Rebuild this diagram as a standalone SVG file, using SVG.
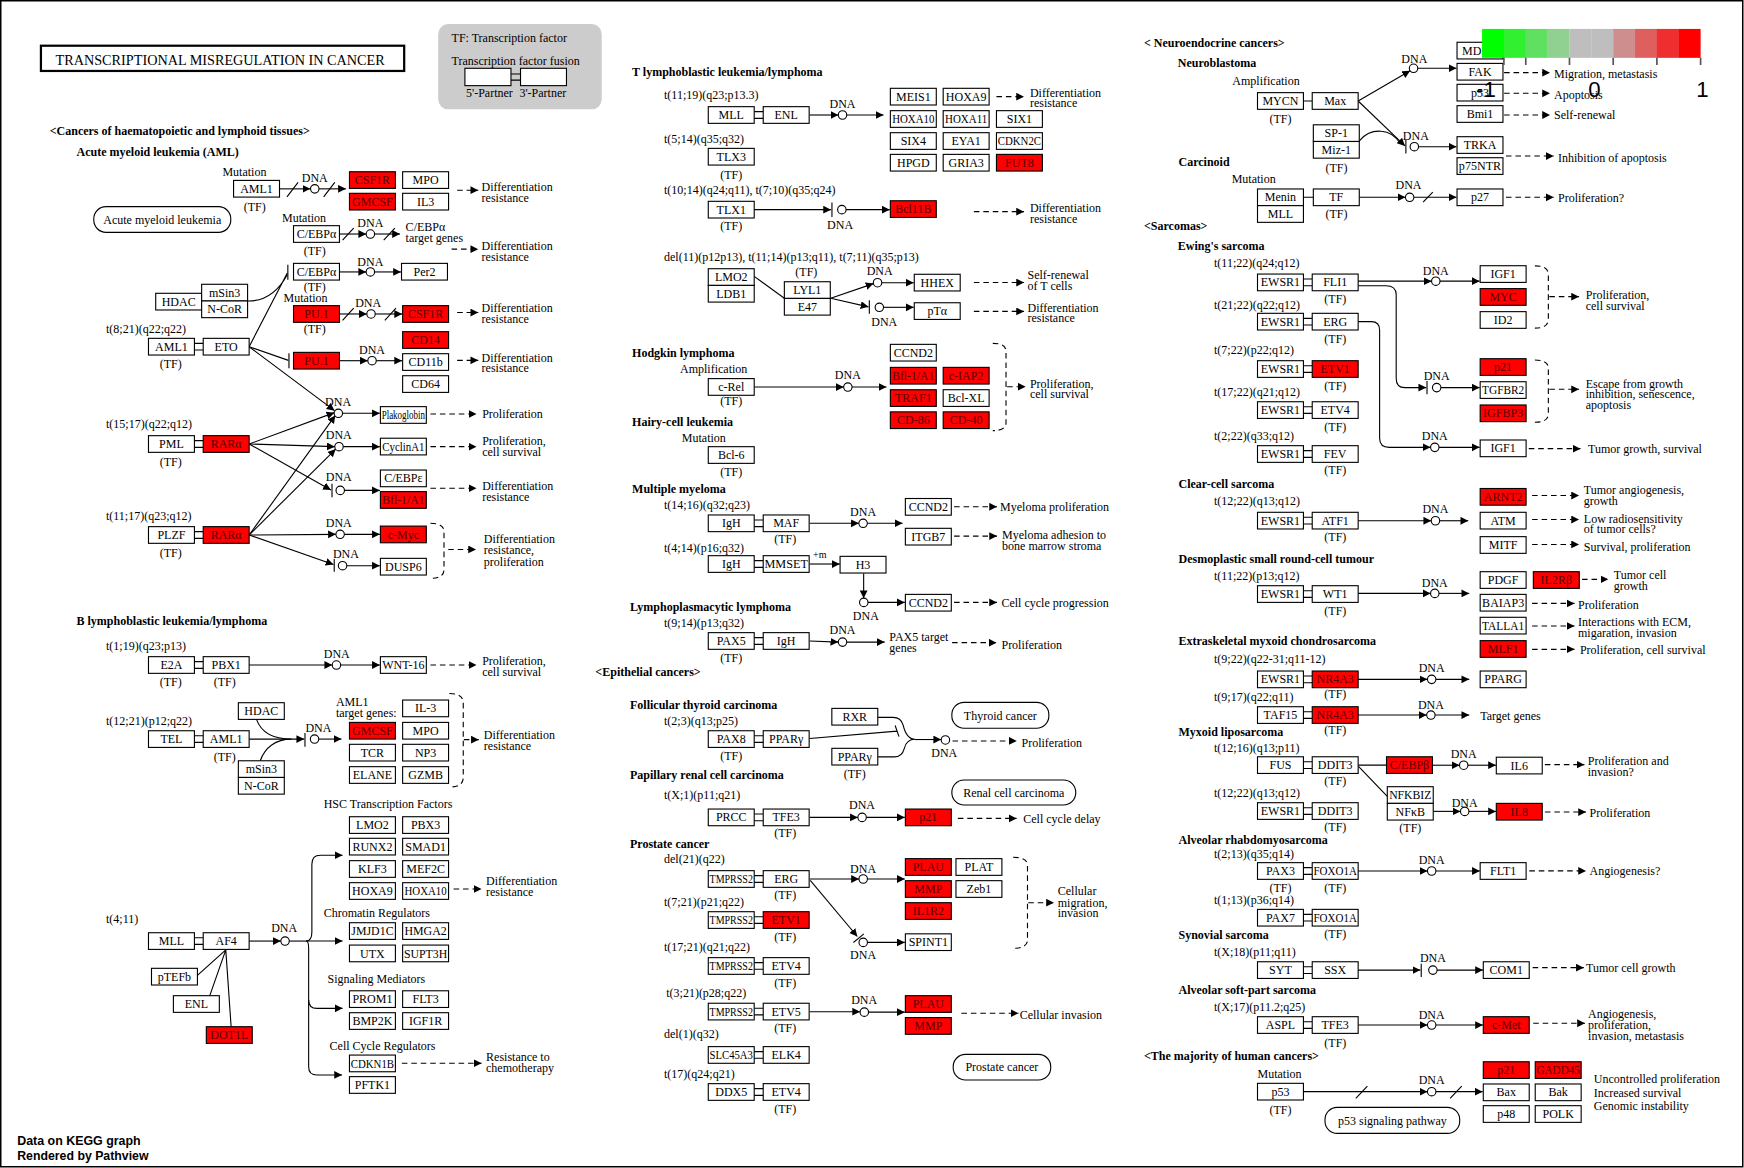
<svg xmlns="http://www.w3.org/2000/svg" width="1744" height="1168" viewBox="0 0 1744 1168">
<style>
text{font-family:"Liberation Serif","Times New Roman",serif;font-size:10.8px;fill:#000}
.b{font-weight:bold}
.c{text-anchor:middle}
.t{fill:#5a0000}
.n{fill:#fff;stroke:#000;stroke-width:1}
.r{fill:#f00;stroke:#000;stroke-width:1}
.o{fill:#fff;stroke:#000;stroke-width:1}
.k{fill:none;stroke:#000;stroke-width:1}
.d{fill:none;stroke:#000;stroke-width:1;stroke-dasharray:5 3.5}
.ka{marker-end:url(#a)}
.sans{font-family:"Liberation Sans",Arial,sans-serif}
</style>
<defs>
<marker id="a" markerUnits="userSpaceOnUse" markerWidth="8" markerHeight="8" refX="7" refY="3.5" orient="auto"><path d="M0,0 L7,3.5 L0,7 z" fill="#000"/></marker>
</defs>
<rect x="0" y="0" width="1744" height="1168" fill="#fff"/>
<rect x="0.75" y="0.75" width="1742" height="1166" fill="none" stroke="#000" stroke-width="1.5"/>
<g transform="scale(1.11224)">

<g id="header">
<rect x="36.8" y="41.1" width="326.6" height="22.7" fill="#fff" stroke="#000" stroke-width="2"/>
<text x="49.9" y="58.6" style="font-size:14px" textLength="296" lengthAdjust="spacingAndGlyphs">TRANSCRIPTIONAL MISREGULATION  IN  CANCER</text>
<rect x="394" y="21.6" width="147" height="76.7" rx="9" fill="#cccccc"/>
<text x="406" y="37.5">TF: Transcription factor</text>
<text x="406" y="58.4">Transcription factor fusion</text>
<rect class="n" x="418" y="61.4" width="41.4" height="15.6"/>
<rect class="n" x="468" y="61.4" width="41.3" height="15.6"/>
<path class="k" d="M459.4,66.5 H468 M459.4,72 H468"/>
<text x="419" y="87.5">5'-Partner</text>
<text x="467" y="87.5">3'-Partner</text>
</g>

<g id="labels">
<text class="b" x="44.7" y="121.4">&lt;Cancers of haematopoietic and lymphoid tissues&gt;</text>
<text class="b" x="68.8" y="140.3">Acute myeloid leukemia (AML)</text>
<text x="200" y="158">Mutation</text>
<text class="c" x="283" y="164">DNA</text>
<text class="c" x="229" y="189.4">(TF)</text>
<text x="433" y="172">Differentiation</text><text x="433" y="181.5">resistance</text>
<text x="253.6" y="199.3">Mutation</text>
<text class="c" x="333" y="203.8">DNA</text>
<text x="364.7" y="207.7">C/EBPα</text><text x="364.7" y="217.9">target genes</text>
<text class="c" x="283" y="229.3">(TF)</text>
<text x="433" y="224.8">Differentiation</text><text x="433" y="234.4">resistance</text>
<text class="c" x="333" y="238.9">DNA</text>
<text class="c" x="283" y="261.5">(TF)</text>
<text x="255" y="271.5">Mutation</text>
<text class="c" x="331" y="275.7">DNA</text>
<text class="c" x="283" y="299.7">(TF)</text>
<text x="433" y="280.4">Differentiation</text><text x="433" y="290.1">resistance</text>
<text x="95.3" y="299.1">t(8;21)(q22;q22)</text>
<text class="c" x="153.5" y="330.6">(TF)</text>
<text class="c" x="334.5" y="318.6">DNA</text>
<text x="433" y="325.2">Differentiation</text><text x="433" y="334.7">resistance</text>
<text class="c" x="304" y="364.7">DNA</text>
<text x="433.5" y="376">Proliferation</text>
<text x="95.3" y="385">t(15;17)(q22;q12)</text>
<text class="c" x="153.5" y="419">(TF)</text>
<text class="c" x="304.6" y="395">DNA</text>
<text x="433.5" y="400">Proliferation,</text><text x="433.5" y="409.7">cell survival</text>
<text class="c" x="304.6" y="432.2">DNA</text>
<text x="433.5" y="440.6">Differentiation</text><text x="433.5" y="450.2">resistance</text>
<text x="95.3" y="467.5">t(11;17)(q23;q12)</text>
<text class="c" x="153.5" y="500.5">(TF)</text>
<text class="c" x="304.6" y="473.5">DNA</text>
<text class="c" x="311" y="501.4">DNA</text>
<text x="435" y="488.5">Differentiation</text><text x="435" y="498.4">resistance,</text><text x="435" y="508.6">proliferation</text>
<text class="b" x="68.8" y="562">B lymphoblastic leukemia/lymphoma</text>
<text x="95.3" y="584.4">t(1;19)(q23;p13)</text>
<text class="c" x="153.5" y="616.5">(TF)</text><text class="c" x="202" y="616.5">(TF)</text>
<text class="c" x="302.8" y="591.9">DNA</text>
<text x="433.5" y="598">Proliferation,</text><text x="433.5" y="607.5">cell survival</text>
<text x="95.3" y="651.9">t(12;21)(p12;q22)</text>
<text class="c" x="202" y="684">(TF)</text>
<text class="c" x="286.3" y="657.9">DNA</text>
<text x="302" y="634.5">AML1</text><text x="302" y="644.5">target genes:</text>
<text x="435" y="664.8">Differentiation</text><text x="435" y="674.3">resistance</text>
<text x="291" y="726.8">HSC Transcription Factors</text>
<text x="437" y="795.7">Differentiation</text><text x="437" y="805.6">resistance</text>
<text x="291" y="824.2">Chromatin Regulators</text>
<text x="294.5" y="883.5">Signaling Mediators</text>
<text x="296.3" y="944">Cell Cycle Regulators</text>
<text x="437" y="954">Resistance to</text><text x="437" y="963.8">chemotherapy</text>
<text x="95.3" y="830.2">t(4;11)</text>
<text class="c" x="255.5" y="837.7">DNA</text>

<text class="b" x="568.3" y="68.3">T lymphoblastic leukemia/lymphoma</text>
<text x="597" y="89">t(11;19)(q23;p13.3)</text>
<text class="c" x="757.5" y="97.3">DNA</text>
<text x="926" y="87">Differentiation</text><text x="926" y="96.5">resistance</text>
<text x="597" y="128.9">t(5;14)(q35;q32)</text>
<text class="c" x="657.5" y="161">(TF)</text>
<text x="597" y="174.7">t(10;14)(q24;q11), t(7;10)(q35;q24)</text>
<text class="c" x="657.5" y="206.8">(TF)</text>
<text class="c" x="755.3" y="205.9">DNA</text>
<text x="926" y="190.9">Differentiation</text><text x="926" y="200.2">resistance</text>
<text x="597" y="234.7">del(11)(p12p13), t(11;14)(p13;q11), t(7;11)(q35;p13)</text>
<text class="c" x="725" y="248.2">(TF)</text>
<text class="c" x="790.9" y="247.3">DNA</text>
<text class="c" x="795" y="293">DNA</text>
<text x="923.8" y="251">Self-renewal</text><text x="923.8" y="260.7">of T cells</text>
<text x="923.8" y="280.2">Differentiation</text><text x="923.8" y="289.8">resistance</text>
<text class="b" x="568.3" y="321.3">Hodgkin lymphoma</text>
<text x="611.4" y="335.7">Amplification</text>
<text class="c" x="657.5" y="364">(TF)</text>
<text class="c" x="762.3" y="341">DNA</text>
<text x="926" y="349.2">Proliferation,</text><text x="926" y="358.2">cell survival</text>
<text class="b" x="568.3" y="383">Hairy-cell leukemia</text>
<text x="613" y="397.1">Mutation</text>
<text class="c" x="657.5" y="427.7">(TF)</text>
<text class="b" x="568.3" y="443.5">Multiple myeloma</text>
<text x="597" y="457.7">t(14;16)(q32;q23)</text>
<text class="c" x="706" y="488.5">(TF)</text>
<text class="c" x="776" y="463.6">DNA</text>
<text x="899.2" y="459.2">Myeloma proliferation</text>
<text x="901" y="484.6">Myeloma adhesion to</text><text x="901" y="494.5">bone marrow stroma</text>
<text x="597" y="496.6">t(4;14)(p16;q32)</text>
<text x="731" y="502" style="font-size:9px">+m</text>
<text class="c" x="778.5" y="557.5">DNA</text>
<text x="900.4" y="546">Cell cycle progression</text>
<text class="b" x="566.4" y="549">Lymphoplasmacytic lymphoma</text>
<text x="597" y="563.5">t(9;14)(p13;q32)</text>
<text class="c" x="657.5" y="595.5">(TF)</text>
<text class="c" x="757.5" y="570.3">DNA</text>
<text x="799.6" y="576">PAX5 target</text><text x="799.6" y="586">genes</text>
<text x="900.4" y="583.5">Proliferation</text>
<text class="b" x="535.3" y="607.8">&lt;Epithelial cancers&gt;</text>
<text class="b" x="566.4" y="637.5">Follicular thyroid carcinoma</text>
<text x="597" y="651.9">t(2;3)(q13;p25)</text>
<text class="c" x="657.5" y="683.3">(TF)</text>
<text class="c" x="768.5" y="699.2">(TF)</text>
<text class="c" x="849" y="680.3">DNA</text>
<text x="918.4" y="671.3">Proliferation</text>
<text class="b" x="566.4" y="700.7">Papillary renal cell carcinoma</text>
<text x="597" y="718.7">t(X;1)(p11;q21)</text>
<text class="c" x="706" y="752.8">(TF)</text>
<text class="c" x="775" y="727.7">DNA</text>
<text x="920" y="740.3">Cell cycle delay</text>
<text class="b" x="566.4" y="762.7">Prostate cancer</text>
<text x="597" y="776.2">del(21)(q22)</text>
<text class="c" x="706" y="808.6">(TF)</text>
<text class="c" x="776" y="784.6">DNA</text>
<text class="c" x="776" y="862.2">DNA</text>
<text x="951" y="804.7">Cellular</text><text x="951" y="815.2">migration,</text><text x="951" y="824.8">invasion</text>
<text x="597" y="814.3">t(7;21)(p21;q22)</text>
<text class="c" x="706" y="845.8">(TF)</text>
<text x="597" y="854.8">t(17;21)(q21;q22)</text>
<text class="c" x="706" y="887.1">(TF)</text>
<text x="599" y="896.7">t(3;21)(p28;q22)</text>
<text class="c" x="706" y="927.6">(TF)</text>
<text class="c" x="777" y="903">DNA</text>
<text x="916.8" y="916.2">Cellular invasion</text>
<text x="597" y="933.6">del(1)(q32)</text>
<text x="597" y="969.5">t(17)(q24;q21)</text>
<text class="c" x="706" y="1001">(TF)</text>

<text class="b" x="1028.5" y="42">&lt; Neuroendocrine cancers&gt;</text>
<text class="b" x="1058.9" y="60">Neuroblastoma</text>
<text x="1108" y="76.4">Amplification</text>
<text class="c" x="1151.3" y="110.9">(TF)</text>
<text class="c" x="1271.6" y="57">DNA</text>
<text class="c" x="1273" y="125.9">DNA</text>
<text class="c" x="1201.6" y="154.4">(TF)</text>
<text x="1397.2" y="70.4">Migration, metastasis</text>
<text x="1397.2" y="89">Apoptosis</text>
<text x="1397.2" y="107.3">Self-renewal</text>
<text x="1400.8" y="145.4">Inhibition of apoptosis</text>
<text class="b" x="1059.6" y="149.3">Carcinoid</text>
<text x="1107.4" y="164.3">Mutation</text>
<text class="c" x="1201.6" y="196.3">(TF)</text>
<text class="c" x="1266.4" y="170.2">DNA</text>
<text x="1400.8" y="181.3">Proliferation?</text>
<text class="b" x="1028.5" y="206.8">&lt;Sarcomas&gt;</text>
<text class="b" x="1058.9" y="224.8">Ewing's sarcoma</text>
<text x="1091.5" y="239.8">t(11;22)(q24;q12)</text>
<text class="c" x="1200.6" y="272.1">(TF)</text>
<text class="c" x="1290.9" y="247.3">DNA</text>
<text x="1425.7" y="269.1">Proliferation,</text><text x="1425.7" y="278.7">cell survival</text>
<text x="1091.5" y="278.1">t(21;22)(q22;q12)</text>
<text class="c" x="1200.6" y="308.7">(TF)</text>
<text x="1091.5" y="318.6">t(7;22)(p22;q12)</text>
<text class="c" x="1200.6" y="350.7">(TF)</text>
<text class="c" x="1291.7" y="341.7">DNA</text>
<text x="1425.7" y="349.2">Escape from growth</text><text x="1425.7" y="358.2">inhibition, senescence,</text><text x="1425.7" y="367.7">apoptosis</text>
<text x="1091.5" y="356.3">t(17;22)(q21;q12)</text>
<text class="c" x="1200.6" y="387.5">(TF)</text>
<text x="1091.5" y="395.6">t(2;22)(q33;q12)</text>
<text class="c" x="1200.6" y="426.5">(TF)</text>
<text class="c" x="1290" y="395.6">DNA</text>
<text x="1427.8" y="407">Tumor growth, survival</text>
<text class="b" x="1059.6" y="439">Clear-cell sarcoma</text>
<text x="1091.5" y="454">t(12;22)(q13;q12)</text>
<text class="c" x="1200.6" y="486.4">(TF)</text>
<text class="c" x="1290.6" y="461.5">DNA</text>
<text x="1424" y="444.5">Tumor angiogenesis,</text><text x="1424" y="454">growth</text>
<text x="1424" y="470">Low radiosensitivity</text><text x="1424" y="479.5">of tumor cells?</text>
<text x="1424" y="495.1">Survival, proliferation</text>
<text class="b" x="1059.6" y="506.5">Desmoplastic small round-cell tumour</text>
<text x="1091.5" y="521.5">t(11;22)(p13;q12)</text>
<text class="c" x="1200.6" y="553">(TF)</text>
<text class="c" x="1290" y="527.5">DNA</text>
<text x="1451" y="520.9">Tumor cell</text><text x="1451" y="530.5">growth</text>
<text x="1418.8" y="547.6">Proliferation</text>
<text x="1418.8" y="562.8">Interactions with ECM,</text><text x="1418.8" y="573">migaration, invasion</text>
<text x="1420.5" y="588">Proliferation, cell survival</text>
<text class="b" x="1059.6" y="580">Extraskeletal myxoid chondrosarcoma</text>
<text x="1091.5" y="595.8">t(9;22)(q22-31;q11-12)</text>
<text class="c" x="1200.6" y="627.9">(TF)</text>
<text class="c" x="1287.2" y="604.5">DNA</text>
<text x="1091.5" y="630">t(9;17)(q22;q11)</text>
<text class="c" x="1200.6" y="660.2">(TF)</text>
<text class="c" x="1286.5" y="637.8">DNA</text>
<text x="1330.8" y="647.4">Target genes</text>
<text class="b" x="1059.6" y="661.4">Myxoid liposarcoma</text>
<text x="1091.5" y="676.4">t(12;16)(q13;p11)</text>
<text class="c" x="1200.6" y="705.8">(TF)</text>
<text class="c" x="1316" y="681.8">DNA</text>
<text x="1427.5" y="687.8">Proliferation and</text><text x="1427.5" y="697.7">invasion?</text>
<text x="1091.5" y="716.3">t(12;22)(q13;q12)</text>
<text class="c" x="1200.6" y="746.9">(TF)</text>
<text class="c" x="1268" y="748.4">(TF)</text>
<text class="c" x="1316.9" y="725.3">DNA</text>
<text x="1429.2" y="734.9">Proliferation</text>
<text class="b" x="1059.6" y="758.8">Alveolar rhabdomyosarcoma</text>
<text x="1091.5" y="771.2">t(2;13)(q35;q14)</text>
<text class="c" x="1151.3" y="801.7">(TF)</text><text class="c" x="1200.6" y="801.7">(TF)</text>
<text class="c" x="1287.2" y="777.1">DNA</text>
<text x="1429.2" y="786.7">Angiogenesis?</text>
<text x="1091.5" y="813.1">t(1;13)(p36;q14)</text>
<text class="c" x="1200.6" y="843.7">(TF)</text>
<text class="b" x="1059.6" y="844.6">Synovial sarcoma</text>
<text x="1091.5" y="859.3">t(X;18)(p11;q11)</text>
<text class="c" x="1288.3" y="864.6">DNA</text>
<text x="1426" y="873.6">Tumor cell growth</text>
<text class="b" x="1059.6" y="894">Alveolar soft-part sarcoma</text>
<text x="1091.5" y="908.7">t(X;17)(p11.2;q25)</text>
<text class="c" x="1200.6" y="941">(TF)</text>
<text class="c" x="1287.2" y="916.5">DNA</text>
<text x="1427.8" y="915.6">Angiogenesis,</text><text x="1427.8" y="925.5">proliferation,</text><text x="1427.8" y="935">invasion, metastasis</text>
<text class="b" x="1028.5" y="953.1">&lt;The majority of human cancers&gt;</text>
<text x="1130.6" y="969.5">Mutation</text>
<text class="c" x="1151.3" y="1001.9">(TF)</text>
<text class="c" x="1287.2" y="974.6">DNA</text>
<text x="1433" y="974">Uncontrolled proliferation</text>
<text x="1433" y="986">Increased survival</text>
<text x="1433" y="998">Genomic instability</text>
<text class="sans b" x="15.5" y="1029.5" style="font-size:10.8px" textLength="111" lengthAdjust="spacingAndGlyphs">Data on KEGG graph</text>
<text class="sans b" x="15.5" y="1043" style="font-size:10.8px" textLength="118" lengthAdjust="spacingAndGlyphs">Rendered by Pathview</text>
</g>

<g id="connectors">
<path class="k" d="M174.8,308.7H182.7M174.8,314.7H182.7 M174.8,396.2H182.7M174.8,402.2H182.7 M174.8,478H182.7M174.8,484H182.7 M174.8,594.9H182.7M174.8,600.9H182.7 M174.8,661.5H182.7M174.8,667.5H182.7 M174.8,843.1H182.7M174.8,849.1H182.7"/>
<path class="k" d="M678.1,100.4H686.2M678.1,106.4H686.2 M678.1,467.5H686.2M678.1,473.5H686.2 M678.1,504.1H686.2M678.1,510.1H686.2 M678.1,573.3H686.2M678.1,579.3H686.2 M678.1,661.5H686.2M678.1,667.5H686.2 M678.1,731.9H686.2M678.1,737.9H686.2 M678.1,787.3H686.2M678.1,793.3H686.2 M678.1,824.2H686.2M678.1,830.2H686.2 M678.1,865.5H686.2M678.1,871.5H686.2 M678.1,906.5H686.2M678.1,912.5H686.2 M678.1,945.5H686.2M678.1,951.5H686.2 M678.1,978.8H686.2M678.1,984.8H686.2"/>
<path class="k" d="M1171.9,250.9H1179.8M1171.9,256.9H1179.8 M1171.9,286.2H1179.8M1171.9,292.2H1179.8 M1171.9,328.8H1179.8M1171.9,334.8H1179.8 M1171.9,365.7H1179.8M1171.9,371.7H1179.8 M1171.9,405.2H1179.8M1171.9,411.2H1179.8 M1171.9,465.1H1179.8M1171.9,471.1H1179.8 M1171.9,531.1H1179.8M1171.9,537.1H1179.8 M1171.9,607.8H1179.8M1171.9,613.8H1179.8 M1171.9,639.9H1179.8M1171.9,645.9H1179.8 M1171.9,684.9H1179.8M1171.9,690.9H1179.8 M1171.9,726.2H1179.8M1171.9,732.2H1179.8 M1171.9,780.1H1179.8M1171.9,786.1H1179.8 M1171.9,822.1H1179.8M1171.9,828.1H1179.8 M1171.9,869.2H1179.8M1171.9,875.2H1179.8 M1171.9,918.6H1179.8M1171.9,924.6H1179.8"/>
<path class="k" d="M1171.9,90.8H1179.8 M1171.9,177.4H1180.8"/>

<path class="k ka" d="M251.3,169.8H279"/>
<path class="k" d="M258,177L268,164 M291,177L301,164"/>
<path class="k ka" d="M286.8,169.8H311"/>
<path class="d ka" d="M411,171H430"/>
<path class="k ka" d="M305.2,210.4H329.2"/>
<path class="k" d="M308,216L318,205 M345,216L355,205"/>
<path class="k ka" d="M336.8,210.4H359.6"/>
<path class="d ka" d="M406,224H430"/>
<path class="k ka" d="M305.2,244.5H329.2"/>
<path class="k ka" d="M336.8,244.5H360.5"/>
<path class="k ka" d="M305.2,282.3H329.8"/>
<path class="k" d="M308,288L318,277 M346,288L356,277"/>
<path class="k ka" d="M337.4,282.3H361.5"/>
<path class="d ka" d="M411,281H430"/>
<path class="k ka" d="M305.2,324.3H330.7"/>
<path class="k ka" d="M338.3,324.3H361.5"/>
<path class="d ka" d="M411,324H430"/>
<path class="k" d="M224,311.7L258.3,245.5 M224,311.7L259.3,324 M222.6,270.6C238,271 250,262 258.3,247"/>
<path class="k" d="M258.8,238V251.5 M259.8,317.5V331"/>
<path class="k ka" d="M224,311.7L300.8,369.2"/>
<path class="k ka" d="M224,399.2L300.6,371"/>
<path class="k ka" d="M224,399.2L301,401.6"/>
<path class="k ka" d="M224,399.2L297.5,440.5"/>
<path class="k ka" d="M224,481L301.5,373.5"/>
<path class="k ka" d="M224,481L301.8,403.8"/>
<path class="k ka" d="M224,481L302,480.4"/>
<path class="k ka" d="M224,481L299.8,507.5"/>
<path class="k" d="M298.5,435V447 M300.5,502.5V514"/>
<path class="k ka" d="M308,371.6H341.5"/>
<path class="k ka" d="M308.6,401.6H341.5"/>
<path class="k ka" d="M309.7,440.9H341.5"/>
<path class="k ka" d="M309.6,480.4H341.5"/>
<path class="k ka" d="M311.8,508.6H341.5"/>
<path class="d ka" d="M387,372.2H428.4"/>
<path class="d ka" d="M387,401.6H428.4"/>
<path class="d ka" d="M387,439H428.4"/>
<path class="d" d="M387,470.5Q399.2,470.5 399.2,478V512Q399.2,520 387,520"/>
<path class="d ka" d="M403,494H428"/>
<path class="k ka" d="M224,597.9H298.7"/>
<path class="k ka" d="M306.3,597.9H341.5"/>
<path class="d ka" d="M387,597.9H428.4"/>
<path class="k ka" d="M224,664.5H273.5"/>
<path class="k" d="M274.2,659V671.5"/>
<path class="k ka" d="M286.6,664.5H307"/>
<path class="k" d="M230.6,646.8C235,659 247,664.5 262,664.5 M234,684C238,672 248,664.5 262,664.5"/>
<path class="d" d="M404,623.5Q416.5,623.5 416.5,632V699Q416.5,707.6 404,707.6"/>
<path class="d ka" d="M417,665H430.5"/>
<path class="k ka" d="M224,846.1H252.5"/>
<path class="k" d="M260.1,846.1H275.3"/>
<path class="k ka" d="M275.3,846.1Q280.4,846.1 280.4,838V777Q280.4,769 288,769H308"/>
<path class="k ka" d="M275.3,846.1H308"/>
<path class="k ka" d="M275.3,846.1Q277.5,846.1 277.5,853V899Q277.5,906.6 285,906.6H308"/>
<path class="k ka" d="M277.5,899V959Q277.5,966.5 285,966.5H307.5"/>
<path class="k" d="M203,854L177.5,877 M203,854L188.6,895.2 M203,854L207.8,923.1"/>
<path class="d ka" d="M407.8,799.3H433"/>
<path class="d ka" d="M361.3,956H433"/>

<path class="k ka" d="M727.9,103.4H753.7"/>
<path class="k ka" d="M761.3,103.4H794.4"/>
<path class="d ka" d="M895.9,86.9H920.7"/>
<path class="k ka" d="M678.1,188.5H747.2"/>
<path class="k" d="M748,182V195"/>
<path class="k ka" d="M760.7,188.5H800"/>
<path class="d ka" d="M875.6,190.3H920.7"/>
<path class="k" d="M678.1,248.5L705.2,268.2"/>
<path class="k ka" d="M746.9,268.2L785.3,255"/>
<path class="k ka" d="M792.8,254.2H821.5"/>
<path class="k ka" d="M746.9,268.2L780.8,275.9"/>
<path class="k" d="M781.6,270V282"/>
<path class="k ka" d="M794.4,276.3H821.5"/>
<path class="d ka" d="M875.6,254H920.7"/>
<path class="d ka" d="M875.6,280H920.7"/>
<path class="k ka" d="M678.1,348H758.5"/>
<path class="k ka" d="M766.1,348H797"/>
<path class="d" d="M892.6,308.7Q904.5,308.7 904.5,316V380Q904.5,387.2 892.6,387.2"/>
<path class="d ka" d="M905.5,347.7H922.2"/>
<path class="k ka" d="M727.9,470.5H772.2"/>
<path class="k ka" d="M779.8,470.5H811.5"/>
<path class="d ka" d="M857.8,455.6H896.4"/>
<path class="d ka" d="M857.8,482H896.4"/>
<path class="k ka" d="M727.9,507.1H755"/>
<path class="k ka" d="M776.5,515.7V537.8"/>
<path class="k ka" d="M780.4,541.6H813.5"/>
<path class="d ka" d="M857.8,541.6H896.4"/>
<path class="k ka" d="M727.9,576.3L753.7,577.3"/>
<path class="k ka" d="M761.3,577.3H795.4"/>
<path class="d ka" d="M856,577.8H896"/>
<path class="k" d="M789.2,645H803Q810,645 812,652Q815,664.7 822.7,664.7 M789.2,680.5H804Q811,680.5 813,673Q815,664.7 822.7,664.7"/>
<path class="k ka" d="M822.7,664.9H846.2"/>
<path class="k" d="M727.9,664L806.5,657.3 M804.8,652.3L808.3,662.3"/>
<path class="d ka" d="M856.4,666.2H914.2"/>
<path class="k ka" d="M727.9,734.9H771.3"/>
<path class="k ka" d="M778.9,734.9H813.5"/>
<path class="d ka" d="M861.2,735.8H914"/>
<path class="k ka" d="M727.9,790.3H772.3"/>
<path class="k ka" d="M779.9,790.3H813.5"/>
<path class="k ka" d="M728.5,791.5L770.8,842"/>
<path class="k" d="M767.3,847.4L776.7,839.6"/>
<path class="k ka" d="M779.9,847.3H813.5"/>
<path class="d" d="M910.9,770.8Q923.8,770.8 923.8,778V845Q923.8,852.6 910.9,852.6"/>
<path class="d ka" d="M924.5,811.6H947.6"/>
<path class="k ka" d="M727.9,909.6H773.3"/>
<path class="k ka" d="M780.9,910H813.5"/>
<path class="d ka" d="M864.4,911H915.8"/>

<path class="k ka" d="M1221.1,90.8L1267.8,63.6"/>
<path class="k ka" d="M1274.7,61.4H1309.5"/>
<path class="k ka" d="M1221.1,90.8L1263.2,131.2"/>
<path class="k" d="M1264,125.5V138 M1222.4,126.5Q1230,117 1242,118Q1252,118.5 1259,129"/>
<path class="k ka" d="M1275.4,131.9H1309.5"/>
<path class="d ka" d="M1352.3,65.3H1393.6"/>
<path class="d ka" d="M1352.3,83.9H1393.6"/>
<path class="d ka" d="M1352.3,103.4H1393.6"/>
<path class="d ka" d="M1354,140.3H1397"/>
<path class="k ka" d="M1222.1,177.4H1263.6"/>
<path class="k ka" d="M1271.2,177.4H1309.5"/>
<path class="k" d="M1279.5,181.8L1288.2,172.8"/>
<path class="d ka" d="M1354,177.4H1397"/>
<path class="k ka" d="M1221.1,252.8H1287.1"/>
<path class="k ka" d="M1294.7,252.8H1330.3"/>
<path class="k ka" d="M1221.1,256.9H1246Q1255.3,256.9 1255.3,265V340Q1255.3,348.5 1263,348.5H1282.3"/>
<path class="k" d="M1283,342.5V354.5"/>
<path class="k ka" d="M1295.5,348.5H1330.3"/>
<path class="k ka" d="M1221.1,289.2H1233Q1240.4,289.2 1240.4,297V394Q1240.4,402.2 1249,402.2H1286.2"/>
<path class="k ka" d="M1293.8,402.2H1330.3"/>
<path class="d ka" d="M1374.5,403.4H1421"/>
<path class="d" d="M1380,239Q1392.1,239 1392.1,247V287Q1392.1,295 1380,295"/>
<path class="d" d="M1380,323.7Q1392.1,323.7 1392.1,331V372Q1392.1,379.7 1380,379.7"/>
<path class="d ka" d="M1393,266.7H1419.7"/>
<path class="d ka" d="M1393,350H1419.7"/>
<path class="k ka" d="M1221.1,468.2H1286.8"/>
<path class="k ka" d="M1294.4,468.2H1320.1"/>
<path class="d ka" d="M1377.5,445.5H1419.7"/>
<path class="d ka" d="M1377.5,467.1H1419.7"/>
<path class="d ka" d="M1377.5,489.5H1419.7"/>
<path class="k ka" d="M1221.1,533.5H1286.2"/>
<path class="k ka" d="M1293.8,533.5H1321"/>
<path class="d ka" d="M1422.4,520.9H1446"/>
<path class="d ka" d="M1377.5,542.5H1415.6"/>
<path class="d ka" d="M1377.5,562.8H1415.6"/>
<path class="d ka" d="M1377.5,583.8H1415.6"/>
<path class="k ka" d="M1221.1,610.8H1283.4"/>
<path class="k ka" d="M1291,610.8H1321"/>
<path class="k ka" d="M1221.1,642.9H1282.7"/>
<path class="k ka" d="M1290.3,642.9H1321"/>
<path class="k" d="M1221.1,687.9H1246.6 M1221.4,689L1247.3,716"/>
<path class="k ka" d="M1287.9,688H1312.2"/>
<path class="k ka" d="M1319.8,688H1345"/>
<path class="d ka" d="M1389,687.5H1424.5"/>
<path class="k ka" d="M1288.6,729.5H1313.1"/>
<path class="k ka" d="M1320.7,729.5H1345"/>
<path class="d ka" d="M1389,730.1H1426"/>
<path class="k ka" d="M1221.1,783.1H1283.4"/>
<path class="k ka" d="M1291,783.1H1330.5"/>
<path class="d ka" d="M1375,783H1426"/>
<path class="k ka" d="M1221.1,872.2H1277"/>
<path class="k" d="M1277.8,866.5V878.5"/>
<path class="k ka" d="M1292.1,872.2H1333.3"/>
<path class="d ka" d="M1378,870H1424"/>
<path class="k ka" d="M1221.1,921.6H1283.4"/>
<path class="k ka" d="M1291,921.6H1333.3"/>
<path class="d ka" d="M1378.5,920H1425"/>
<path class="k ka" d="M1171.9,981.5H1283.4"/>
<path class="k" d="M1219,987.5L1229.4,976.5 M1303.8,987.5L1314.2,976.5"/>
<path class="k ka" d="M1291,981.5H1333"/>
</g>

<g id="dna">
<circle class="o" cx="283" cy="169.8" r="3.8"/>
<circle class="o" cx="333" cy="210.4" r="3.8"/>
<circle class="o" cx="333" cy="244.5" r="3.8"/>
<circle class="o" cx="333.6" cy="282.3" r="3.8"/>
<circle class="o" cx="334.5" cy="324.3" r="3.8"/>
<circle class="o" cx="304.2" cy="371.6" r="3.8"/>
<circle class="o" cx="304.8" cy="401.6" r="3.8"/>
<circle class="o" cx="305.9" cy="440.9" r="3.8"/>
<circle class="o" cx="305.8" cy="480.4" r="3.8"/>
<circle class="o" cx="308" cy="508.6" r="3.8"/>
<circle class="o" cx="302.5" cy="597.9" r="3.8"/>
<circle class="o" cx="282.8" cy="664.5" r="3.8"/>
<circle class="o" cx="256.3" cy="846.1" r="3.8"/>
<circle class="o" cx="757.5" cy="103.4" r="3.8"/>
<circle class="o" cx="756.9" cy="188.5" r="3.8"/>
<circle class="o" cx="789" cy="254.2" r="3.8"/>
<circle class="o" cx="790.6" cy="276.3" r="3.8"/>
<circle class="o" cx="762.3" cy="348" r="3.8"/>
<circle class="o" cx="776" cy="470.5" r="3.8"/>
<circle class="o" cx="776.6" cy="541.6" r="3.8"/>
<circle class="o" cx="757.5" cy="577.3" r="3.8"/>
<circle class="o" cx="850" cy="665.3" r="3.8"/>
<circle class="o" cx="775.1" cy="734.9" r="3.8"/>
<circle class="o" cx="776.1" cy="790.3" r="3.8"/>
<circle class="o" cx="776.1" cy="847.3" r="3.8"/>
<circle class="o" cx="777.1" cy="910" r="3.8"/>
<circle class="o" cx="1270.9" cy="61.4" r="3.8"/>
<circle class="o" cx="1271.6" cy="131.9" r="3.8"/>
<circle class="o" cx="1267.4" cy="177.4" r="3.8"/>
<circle class="o" cx="1290.9" cy="252.8" r="3.8"/>
<circle class="o" cx="1291.7" cy="348.5" r="3.8"/>
<circle class="o" cx="1290" cy="402.2" r="3.8"/>
<circle class="o" cx="1290.6" cy="468.2" r="3.8"/>
<circle class="o" cx="1290" cy="533.5" r="3.8"/>
<circle class="o" cx="1287.2" cy="610.8" r="3.8"/>
<circle class="o" cx="1286.5" cy="642.9" r="3.8"/>
<circle class="o" cx="1316" cy="688" r="3.8"/>
<circle class="o" cx="1316.9" cy="729.5" r="3.8"/>
<circle class="o" cx="1287.2" cy="783.1" r="3.8"/>
<circle class="o" cx="1288.3" cy="872.2" r="3.8"/>
<circle class="o" cx="1287.2" cy="921.6" r="3.8"/>
<circle class="o" cx="1287.2" cy="981.5" r="3.8"/>
</g>

<g id="maps">
<g id="map-aml"><rect class="o" x="84.3" y="185.8" width="123.2" height="23.1" rx="11"/><text class="c" x="145.9" y="201.4">Acute myeloid leukemia</text></g>
<g id="map-thyroid"><rect class="o" x="855.8" y="631.5" width="87.2" height="23.3" rx="11"/><text class="c" x="899.4" y="647">Thyroid cancer</text></g>
<g id="map-renal"><rect class="o" x="855.8" y="701.3" width="111.4" height="22.5" rx="11"/><text class="c" x="911.5" y="716.5">Renal cell carcinoma</text></g>
<g id="map-prostate"><rect class="o" x="857" y="948" width="87.7" height="23" rx="11"/><text class="c" x="900.8" y="963.3">Prostate cancer</text></g>
<g id="map-p53"><rect class="o" x="1191.3" y="995.6" width="121.1" height="23.4" rx="11"/><text class="c" x="1251.9" y="1011.3">p53 signaling pathway</text></g>
</g>

<g id="nodes-left">
<g id="aml1-a"><rect class="n" x="210" y="162.2" width="41.3" height="15"/><text class="c" x="230.65" y="173.4">AML1</text></g>
<g id="csf1r-a"><rect class="r" x="314.2" y="154.4" width="41.3" height="15"/><text class="c t" x="334.85" y="165.6">CSF1R</text></g>
<g id="gmcsf-a"><rect class="r" x="314.2" y="173.8" width="41.3" height="15"/><text class="c t" x="334.85" y="185">GMCSF</text></g>
<g id="mpo-a"><rect class="n" x="362" y="154.4" width="41.3" height="15"/><text class="c" x="382.65" y="165.6">MPO</text></g>
<g id="il3-a"><rect class="n" x="362" y="173.8" width="41.3" height="15"/><text class="c" x="382.65" y="185">IL3</text></g>
<g id="cebpa-a"><rect class="n" x="263.9" y="202.9" width="41.3" height="15"/><text class="c" x="284.55" y="214.1">C/EBPα</text></g>
<g id="cebpa-b"><rect class="n" x="263.9" y="236.8" width="41.3" height="15"/><text class="c" x="284.55" y="248">C/EBPα</text></g>
<g id="per2"><rect class="n" x="361" y="236.8" width="41.3" height="15"/><text class="c" x="381.65" y="248">Per2</text></g>
<g id="hdac-a"><rect class="n" x="140" y="263.7" width="41.3" height="15"/><text class="c" x="160.65" y="274.9">HDAC</text></g>
<g id="msin3-a"><rect class="n" x="181.3" y="255.6" width="41.3" height="15"/><text class="c" x="201.95" y="266.8">mSin3</text></g>
<g id="ncor-a"><rect class="n" x="181.3" y="270.6" width="41.3" height="15"/><text class="c" x="201.95" y="281.8">N-CoR</text></g>
<g id="pu1-a"><rect class="r" x="263.9" y="274.8" width="41.3" height="15"/><text class="c t" x="284.55" y="286">PU.1</text></g>
<g id="csf1r-b"><rect class="r" x="362" y="274.8" width="41.3" height="15"/><text class="c t" x="382.65" y="286">CSF1R</text></g>
<g id="aml1-b"><rect class="n" x="133.5" y="304.2" width="41.3" height="15"/><text class="c" x="154.15" y="315.4">AML1</text></g>
<g id="eto"><rect class="n" x="182.7" y="304.2" width="41.3" height="15"/><text class="c" x="203.35" y="315.4">ETO</text></g>
<g id="pu1-b"><rect class="r" x="263.9" y="316.8" width="41.3" height="15"/><text class="c t" x="284.55" y="328">PU.1</text></g>
<g id="cd14"><rect class="r" x="362" y="298.2" width="41.3" height="15"/><text class="c t" x="382.65" y="309.4">CD14</text></g>
<g id="cd11b"><rect class="n" x="362" y="318" width="41.3" height="15"/><text class="c" x="382.65" y="329.2">CD11b</text></g>
<g id="cd64"><rect class="n" x="362" y="337.8" width="41.3" height="15"/><text class="c" x="382.65" y="349">CD64</text></g>
<g id="plakoglobin"><rect class="n" x="342" y="365.6" width="41.3" height="15"/><text class="c" x="362.65" y="376.8" textLength="39" lengthAdjust="spacingAndGlyphs">Plakoglobin</text></g>
<g id="pml"><rect class="n" x="133.5" y="391.7" width="41.3" height="15"/><text class="c" x="154.15" y="402.9">PML</text></g>
<g id="rara-a"><rect class="r" x="182.7" y="391.7" width="41.3" height="15"/><text class="c t" x="203.35" y="402.9">RARα</text></g>
<g id="cyclina1"><rect class="n" x="342" y="394" width="41.3" height="15"/><text class="c" x="362.65" y="405.2" textLength="38" lengthAdjust="spacingAndGlyphs">CyclinA1</text></g>
<g id="cebpe"><rect class="n" x="342" y="422.6" width="41.3" height="15"/><text class="c" x="362.65" y="433.8">C/EBPε</text></g>
<g id="bfl1-a"><rect class="r" x="342" y="442" width="41.3" height="15"/><text class="c t" x="362.65" y="453.2" textLength="38" lengthAdjust="spacingAndGlyphs">Bfl-1/A1</text></g>
<g id="plzf"><rect class="n" x="133.5" y="473.5" width="41.3" height="15"/><text class="c" x="154.15" y="484.7">PLZF</text></g>
<g id="rara-b"><rect class="r" x="182.7" y="473.5" width="41.3" height="15"/><text class="c t" x="203.35" y="484.7">RARα</text></g>
<g id="cmyc"><rect class="r" x="342" y="473" width="41.3" height="15"/><text class="c t" x="362.65" y="484.2">c-Myc</text></g>
<g id="dusp6"><rect class="n" x="342" y="502" width="41.3" height="15"/><text class="c" x="362.65" y="513.2">DUSP6</text></g>
<g id="e2a"><rect class="n" x="133.5" y="590.4" width="41.3" height="15"/><text class="c" x="154.15" y="601.6">E2A</text></g>
<g id="pbx1"><rect class="n" x="182.7" y="590.4" width="41.3" height="15"/><text class="c" x="203.35" y="601.6">PBX1</text></g>
<g id="wnt16"><rect class="n" x="342" y="590.4" width="41.3" height="15"/><text class="c" x="362.65" y="601.6" textLength="38" lengthAdjust="spacingAndGlyphs">WNT-16</text></g>
<g id="hdac-b"><rect class="n" x="214.3" y="631.8" width="41.3" height="15"/><text class="c" x="234.95" y="643">HDAC</text></g>
<g id="tel"><rect class="n" x="133.5" y="657" width="41.3" height="15"/><text class="c" x="154.15" y="668.2">TEL</text></g>
<g id="aml1-c"><rect class="n" x="182.7" y="657" width="41.3" height="15"/><text class="c" x="203.35" y="668.2">AML1</text></g>
<g id="msin3-b"><rect class="n" x="214.3" y="684" width="41.3" height="15"/><text class="c" x="234.95" y="695.2">mSin3</text></g>
<g id="ncor-b"><rect class="n" x="214.3" y="699" width="41.3" height="15"/><text class="c" x="234.95" y="710.2">N-CoR</text></g>
<g id="il3-b"><rect class="n" x="362" y="629.4" width="41.3" height="15"/><text class="c" x="382.65" y="640.6">IL-3</text></g>
<g id="gmcsf-b"><rect class="r" x="314.2" y="649.5" width="41.3" height="15"/><text class="c t" x="334.85" y="660.7">GMCSF</text></g>
<g id="mpo-b"><rect class="n" x="362" y="649.5" width="41.3" height="15"/><text class="c" x="382.65" y="660.7">MPO</text></g>
<g id="tcr"><rect class="n" x="314.2" y="669.2" width="41.3" height="15"/><text class="c" x="334.85" y="680.4">TCR</text></g>
<g id="np3"><rect class="n" x="362" y="669.2" width="41.3" height="15"/><text class="c" x="382.65" y="680.4">NP3</text></g>
<g id="elane"><rect class="n" x="314.2" y="689.3" width="41.3" height="15"/><text class="c" x="334.85" y="700.5">ELANE</text></g>
<g id="gzmb"><rect class="n" x="362" y="689.3" width="41.3" height="15"/><text class="c" x="382.65" y="700.5">GZMB</text></g>
<g id="lmo2-a"><rect class="n" x="314.2" y="734.3" width="41.3" height="15"/><text class="c" x="334.85" y="745.5">LMO2</text></g>
<g id="pbx3"><rect class="n" x="362" y="734.3" width="41.3" height="15"/><text class="c" x="382.65" y="745.5">PBX3</text></g>
<g id="runx2"><rect class="n" x="314.2" y="753.7" width="41.3" height="15"/><text class="c" x="334.85" y="764.9">RUNX2</text></g>
<g id="smad1"><rect class="n" x="362" y="753.7" width="41.3" height="15"/><text class="c" x="382.65" y="764.9">SMAD1</text></g>
<g id="klf3"><rect class="n" x="314.2" y="773.8" width="41.3" height="15"/><text class="c" x="334.85" y="785">KLF3</text></g>
<g id="mef2c"><rect class="n" x="362" y="773.8" width="41.3" height="15"/><text class="c" x="382.65" y="785">MEF2C</text></g>
<g id="hoxa9-a"><rect class="n" x="314.2" y="793.6" width="41.3" height="15"/><text class="c" x="334.85" y="804.8">HOXA9</text></g>
<g id="hoxa10-a"><rect class="n" x="362" y="793.6" width="41.3" height="15"/><text class="c" x="382.65" y="804.8" textLength="38" lengthAdjust="spacingAndGlyphs">HOXA10</text></g>
<g id="jmjd1c"><rect class="n" x="314.2" y="829.6" width="41.3" height="15"/><text class="c" x="334.85" y="840.8" textLength="38" lengthAdjust="spacingAndGlyphs">JMJD1C</text></g>
<g id="hmga2"><rect class="n" x="362" y="829.6" width="41.3" height="15"/><text class="c" x="382.65" y="840.8" textLength="38" lengthAdjust="spacingAndGlyphs">HMGA2</text></g>
<g id="utx"><rect class="n" x="314.2" y="849.7" width="41.3" height="15"/><text class="c" x="334.85" y="860.9">UTX</text></g>
<g id="supt3h"><rect class="n" x="362" y="849.7" width="41.3" height="15"/><text class="c" x="382.65" y="860.9" textLength="39" lengthAdjust="spacingAndGlyphs">SUPT3H</text></g>
<g id="prom1"><rect class="n" x="314.2" y="890.8" width="41.3" height="15"/><text class="c" x="334.85" y="902">PROM1</text></g>
<g id="flt3"><rect class="n" x="362" y="890.8" width="41.3" height="15"/><text class="c" x="382.65" y="902">FLT3</text></g>
<g id="bmp2k"><rect class="n" x="314.2" y="910.5" width="41.3" height="15"/><text class="c" x="334.85" y="921.7">BMP2K</text></g>
<g id="igf1r"><rect class="n" x="362" y="910.5" width="41.3" height="15"/><text class="c" x="382.65" y="921.7">IGF1R</text></g>
<g id="cdkn1b"><rect class="n" x="314.2" y="948.6" width="41.3" height="15"/><text class="c" x="334.85" y="959.8" textLength="39" lengthAdjust="spacingAndGlyphs">CDKN1B</text></g>
<g id="pftk1"><rect class="n" x="314.2" y="968" width="41.3" height="15"/><text class="c" x="334.85" y="979.2">PFTK1</text></g>
<g id="mll-a"><rect class="n" x="133.5" y="838.6" width="41.3" height="15"/><text class="c" x="154.15" y="849.8">MLL</text></g>
<g id="af4"><rect class="n" x="182.7" y="838.6" width="41.3" height="15"/><text class="c" x="203.35" y="849.8">AF4</text></g>
<g id="ptefb"><rect class="n" x="136.2" y="870.6" width="41.3" height="15"/><text class="c" x="156.85" y="881.8">pTEFb</text></g>
<g id="enl-a"><rect class="n" x="155.9" y="895.2" width="41.3" height="15"/><text class="c" x="176.55" y="906.4">ENL</text></g>
<g id="dot1l"><rect class="r" x="185.5" y="923.1" width="41.3" height="15"/><text class="c t" x="206.15" y="934.3">DOT1L</text></g>
</g>

<g id="nodes-middle">
<g id="mll-b"><rect class="n" x="636.8" y="95.9" width="41.3" height="15"/><text class="c" x="657.45" y="107.1">MLL</text></g>
<g id="enl-b"><rect class="n" x="686.2" y="95.9" width="41.3" height="15"/><text class="c" x="706.85" y="107.1">ENL</text></g>
<g id="meis1"><rect class="n" x="800.5" y="79.4" width="41.3" height="15"/><text class="c" x="821.15" y="90.6">MEIS1</text></g>
<g id="hoxa9-b"><rect class="n" x="848" y="79.4" width="41.3" height="15"/><text class="c" x="868.65" y="90.6">HOXA9</text></g>
<g id="hoxa10-b"><rect class="n" x="800.5" y="99.5" width="41.3" height="15"/><text class="c" x="821.15" y="110.7" textLength="38" lengthAdjust="spacingAndGlyphs">HOXA10</text></g>
<g id="hoxa11"><rect class="n" x="848" y="99.5" width="41.3" height="15"/><text class="c" x="868.65" y="110.7" textLength="38" lengthAdjust="spacingAndGlyphs">HOXA11</text></g>
<g id="six1"><rect class="n" x="895.9" y="99.5" width="41.3" height="15"/><text class="c" x="916.55" y="110.7">SIX1</text></g>
<g id="six4"><rect class="n" x="800.5" y="119.3" width="41.3" height="15"/><text class="c" x="821.15" y="130.5">SIX4</text></g>
<g id="eya1"><rect class="n" x="848" y="119.3" width="41.3" height="15"/><text class="c" x="868.65" y="130.5">EYA1</text></g>
<g id="cdkn2c"><rect class="n" x="895.9" y="119.3" width="41.3" height="15"/><text class="c" x="916.55" y="130.5" textLength="39" lengthAdjust="spacingAndGlyphs">CDKN2C</text></g>
<g id="hpgd"><rect class="n" x="800.5" y="138.8" width="41.3" height="15"/><text class="c" x="821.15" y="150">HPGD</text></g>
<g id="gria3"><rect class="n" x="848" y="138.8" width="41.3" height="15"/><text class="c" x="868.65" y="150">GRIA3</text></g>
<g id="fut8"><rect class="r" x="895.9" y="138.8" width="41.3" height="15"/><text class="c t" x="916.55" y="150">FUT8</text></g>
<g id="tlx3"><rect class="n" x="636.8" y="133.4" width="41.3" height="15"/><text class="c" x="657.45" y="144.6">TLX3</text></g>
<g id="tlx1"><rect class="n" x="636.8" y="181" width="41.3" height="15"/><text class="c" x="657.45" y="192.2">TLX1</text></g>
<g id="bcl11b"><rect class="r" x="800.5" y="180.5" width="41.3" height="15"/><text class="c t" x="821.15" y="191.7">Bcl11B</text></g>
<g id="lmo2-b"><rect class="n" x="636.8" y="241.6" width="41.3" height="15"/><text class="c" x="657.45" y="252.8">LMO2</text></g>
<g id="ldb1"><rect class="n" x="636.8" y="256.6" width="41.3" height="15"/><text class="c" x="657.45" y="267.8">LDB1</text></g>
<g id="lyl1"><rect class="n" x="705.2" y="253.3" width="41.3" height="15"/><text class="c" x="725.85" y="264.5">LYL1</text></g>
<g id="e47"><rect class="n" x="705.2" y="268.3" width="41.3" height="15"/><text class="c" x="725.85" y="279.5">E47</text></g>
<g id="hhex"><rect class="n" x="822" y="246.6" width="41.3" height="15"/><text class="c" x="842.65" y="257.8">HHEX</text></g>
<g id="pta"><rect class="n" x="822" y="272.2" width="41.3" height="15"/><text class="c" x="842.65" y="283.4">pTα</text></g>
<g id="crel"><rect class="n" x="636.8" y="340.4" width="41.3" height="15"/><text class="c" x="657.45" y="351.6">c-Rel</text></g>
<g id="ccnd2-a"><rect class="n" x="800.5" y="309.6" width="41.3" height="15"/><text class="c" x="821.15" y="320.8">CCND2</text></g>
<g id="bfl1-b"><rect class="r" x="800.5" y="330.3" width="41.3" height="15"/><text class="c t" x="821.15" y="341.5" textLength="38" lengthAdjust="spacingAndGlyphs">Bfl-1/A1</text></g>
<g id="ciap2"><rect class="r" x="848" y="330.3" width="41.3" height="15"/><text class="c t" x="868.65" y="341.5">c-IAP2</text></g>
<g id="traf1"><rect class="r" x="800.5" y="350.4" width="41.3" height="15"/><text class="c t" x="821.15" y="361.6">TRAF1</text></g>
<g id="bclxl"><rect class="n" x="848" y="350.4" width="41.3" height="15"/><text class="c" x="868.65" y="361.6">Bcl-XL</text></g>
<g id="cd86"><rect class="r" x="800.5" y="370.3" width="41.3" height="15"/><text class="c t" x="821.15" y="381.5">CD-86</text></g>
<g id="cd40"><rect class="r" x="848" y="370.3" width="41.3" height="15"/><text class="c t" x="868.65" y="381.5">CD-40</text></g>
<g id="bcl6"><rect class="n" x="636.8" y="401.6" width="41.3" height="15"/><text class="c" x="657.45" y="412.8">Bcl-6</text></g>
<g id="igh-a"><rect class="n" x="636.8" y="463" width="41.3" height="15"/><text class="c" x="657.45" y="474.2">IgH</text></g>
<g id="maf"><rect class="n" x="686.2" y="463" width="41.3" height="15"/><text class="c" x="706.85" y="474.2">MAF</text></g>
<g id="ccnd2-b"><rect class="n" x="814" y="448.2" width="41.3" height="15"/><text class="c" x="834.65" y="459.4">CCND2</text></g>
<g id="itgb7"><rect class="n" x="814" y="475" width="41.3" height="15"/><text class="c" x="834.65" y="486.2">ITGB7</text></g>
<g id="igh-b"><rect class="n" x="636.8" y="499.6" width="41.3" height="15"/><text class="c" x="657.45" y="510.8">IgH</text></g>
<g id="mmset"><rect class="n" x="686.2" y="499.6" width="41.3" height="15"/><text class="c" x="706.85" y="510.8" textLength="39" lengthAdjust="spacingAndGlyphs">MMSET</text></g>
<g id="h3"><rect class="n" x="755.3" y="500.2" width="41.3" height="15"/><text class="c" x="775.95" y="511.4">H3</text></g>
<g id="ccnd2-c"><rect class="n" x="814" y="534.4" width="41.3" height="15"/><text class="c" x="834.65" y="545.6">CCND2</text></g>
<g id="pax5"><rect class="n" x="636.8" y="568.8" width="41.3" height="15"/><text class="c" x="657.45" y="580">PAX5</text></g>
<g id="igh-c"><rect class="n" x="686.2" y="568.8" width="41.3" height="15"/><text class="c" x="706.85" y="580">IgH</text></g>
<g id="pax8"><rect class="n" x="636.8" y="657" width="41.3" height="15"/><text class="c" x="657.45" y="668.2">PAX8</text></g>
<g id="pparg-a"><rect class="n" x="686.2" y="657" width="41.3" height="15"/><text class="c" x="706.85" y="668.2">PPARγ</text></g>
<g id="rxr"><rect class="n" x="747.9" y="636.9" width="41.3" height="15"/><text class="c" x="768.55" y="648.1">RXR</text></g>
<g id="pparg-b"><rect class="n" x="747.9" y="672.8" width="41.3" height="15"/><text class="c" x="768.55" y="684">PPARγ</text></g>
<g id="prcc"><rect class="n" x="636.8" y="727.4" width="41.3" height="15"/><text class="c" x="657.45" y="738.6">PRCC</text></g>
<g id="tfe3-a"><rect class="n" x="686.2" y="727.4" width="41.3" height="15"/><text class="c" x="706.85" y="738.6">TFE3</text></g>
<g id="p21-a"><rect class="r" x="814" y="727.4" width="41.3" height="15"/><text class="c t" x="834.65" y="738.6">p21</text></g>
<g id="tmprss2-a"><rect class="n" x="636.8" y="782.8" width="41.3" height="15"/><text class="c" x="657.45" y="794" textLength="39" lengthAdjust="spacingAndGlyphs">TMPRSS2</text></g>
<g id="erg-a"><rect class="n" x="686.2" y="782.8" width="41.3" height="15"/><text class="c" x="706.85" y="794">ERG</text></g>
<g id="plau-a"><rect class="r" x="814" y="772" width="41.3" height="15"/><text class="c t" x="834.65" y="783.2">PLAU</text></g>
<g id="plat"><rect class="n" x="859.5" y="772" width="41.3" height="15"/><text class="c" x="880.15" y="783.2">PLAT</text></g>
<g id="mmp-a"><rect class="r" x="814" y="791.8" width="41.3" height="15"/><text class="c t" x="834.65" y="803">MMP</text></g>
<g id="zeb1"><rect class="n" x="859.5" y="791.8" width="41.3" height="15"/><text class="c" x="880.15" y="803">Zeb1</text></g>
<g id="il1r2"><rect class="r" x="814" y="811.6" width="41.3" height="15"/><text class="c t" x="834.65" y="822.8">IL1R2</text></g>
<g id="spint1"><rect class="n" x="814" y="839.6" width="41.3" height="15"/><text class="c" x="834.65" y="850.8">SPINT1</text></g>
<g id="tmprss2-b"><rect class="n" x="636.8" y="819.7" width="41.3" height="15"/><text class="c" x="657.45" y="830.9" textLength="39" lengthAdjust="spacingAndGlyphs">TMPRSS2</text></g>
<g id="etv1-a"><rect class="r" x="686.2" y="819.7" width="41.3" height="15"/><text class="c t" x="706.85" y="830.9">ETV1</text></g>
<g id="tmprss2-c"><rect class="n" x="636.8" y="861" width="41.3" height="15"/><text class="c" x="657.45" y="872.2" textLength="39" lengthAdjust="spacingAndGlyphs">TMPRSS2</text></g>
<g id="etv4-a"><rect class="n" x="686.2" y="861" width="41.3" height="15"/><text class="c" x="706.85" y="872.2">ETV4</text></g>
<g id="tmprss2-d"><rect class="n" x="636.8" y="902" width="41.3" height="15"/><text class="c" x="657.45" y="913.2" textLength="39" lengthAdjust="spacingAndGlyphs">TMPRSS2</text></g>
<g id="etv5"><rect class="n" x="686.2" y="902" width="41.3" height="15"/><text class="c" x="706.85" y="913.2">ETV5</text></g>
<g id="plau-b"><rect class="r" x="814" y="895.2" width="41.3" height="15"/><text class="c t" x="834.65" y="906.4">PLAU</text></g>
<g id="mmp-b"><rect class="r" x="814" y="914.9" width="41.3" height="15"/><text class="c t" x="834.65" y="926.1">MMP</text></g>
<g id="slc45a3"><rect class="n" x="636.8" y="941" width="41.3" height="15"/><text class="c" x="657.45" y="952.2" textLength="39" lengthAdjust="spacingAndGlyphs">SLC45A3</text></g>
<g id="elk4"><rect class="n" x="686.2" y="941" width="41.3" height="15"/><text class="c" x="706.85" y="952.2">ELK4</text></g>
<g id="ddx5"><rect class="n" x="636.8" y="974.3" width="41.3" height="15"/><text class="c" x="657.45" y="985.5">DDX5</text></g>
<g id="etv4-b"><rect class="n" x="686.2" y="974.3" width="41.3" height="15"/><text class="c" x="706.85" y="985.5">ETV4</text></g>
</g>

<g id="nodes-right">
<g id="mdm2"><rect class="n" x="1310" y="38" width="41.3" height="15"/><text class="c" x="1330.65" y="49.2">MDM2</text></g>
<g id="fak"><rect class="n" x="1310" y="57" width="41.3" height="15"/><text class="c" x="1330.65" y="68.2">FAK</text></g>
<g id="p53-a"><rect class="n" x="1310" y="75.8" width="41.3" height="15"/><text class="c" x="1330.65" y="87">p53</text></g>
<g id="bmi1"><rect class="n" x="1310" y="95" width="41.3" height="15"/><text class="c" x="1330.65" y="106.2">Bmi1</text></g>
<g id="trka"><rect class="n" x="1310" y="122.9" width="41.3" height="15"/><text class="c" x="1330.65" y="134.1">TRKA</text></g>
<g id="p75ntr"><rect class="n" x="1310" y="141.8" width="41.3" height="15"/><text class="c" x="1330.65" y="153" textLength="38" lengthAdjust="spacingAndGlyphs">p75NTR</text></g>
<g id="p27"><rect class="n" x="1310" y="169.9" width="41.3" height="15"/><text class="c" x="1330.65" y="181.1">p27</text></g>
<g id="mycn"><rect class="n" x="1130.6" y="83.3" width="41.3" height="15"/><text class="c" x="1151.25" y="94.5">MYCN</text></g>
<g id="max"><rect class="n" x="1179.8" y="83.3" width="41.3" height="15"/><text class="c" x="1200.45" y="94.5">Max</text></g>
<g id="sp1"><rect class="n" x="1180.8" y="112.2" width="41.3" height="15"/><text class="c" x="1201.45" y="123.4">SP-1</text></g>
<g id="miz1"><rect class="n" x="1180.8" y="127.2" width="41.3" height="15"/><text class="c" x="1201.45" y="138.4">Miz-1</text></g>
<g id="menin"><rect class="n" x="1130.6" y="169.9" width="41.3" height="15"/><text class="c" x="1151.25" y="181.1">Menin</text></g>
<g id="mll-c"><rect class="n" x="1130.6" y="184.9" width="41.3" height="15"/><text class="c" x="1151.25" y="196.1">MLL</text></g>
<g id="tf"><rect class="n" x="1180.8" y="169.9" width="41.3" height="15"/><text class="c" x="1201.45" y="181.1">TF</text></g>
<g id="ewsr1-a"><rect class="n" x="1130.6" y="246.4" width="41.3" height="15"/><text class="c" x="1151.25" y="257.6">EWSR1</text></g>
<g id="fli1"><rect class="n" x="1179.8" y="246.4" width="41.3" height="15"/><text class="c" x="1200.45" y="257.6">FLI1</text></g>
<g id="ewsr1-b"><rect class="n" x="1130.6" y="281.7" width="41.3" height="15"/><text class="c" x="1151.25" y="292.9">EWSR1</text></g>
<g id="erg-b"><rect class="n" x="1179.8" y="281.7" width="41.3" height="15"/><text class="c" x="1200.45" y="292.9">ERG</text></g>
<g id="ewsr1-c"><rect class="n" x="1130.6" y="324.3" width="41.3" height="15"/><text class="c" x="1151.25" y="335.5">EWSR1</text></g>
<g id="etv1-b"><rect class="r" x="1179.8" y="324.3" width="41.3" height="15"/><text class="c t" x="1200.45" y="335.5">ETV1</text></g>
<g id="ewsr1-d"><rect class="n" x="1130.6" y="361.2" width="41.3" height="15"/><text class="c" x="1151.25" y="372.4">EWSR1</text></g>
<g id="etv4-c"><rect class="n" x="1179.8" y="361.2" width="41.3" height="15"/><text class="c" x="1200.45" y="372.4">ETV4</text></g>
<g id="ewsr1-e"><rect class="n" x="1130.6" y="400.7" width="41.3" height="15"/><text class="c" x="1151.25" y="411.9">EWSR1</text></g>
<g id="fev"><rect class="n" x="1179.8" y="400.7" width="41.3" height="15"/><text class="c" x="1200.45" y="411.9">FEV</text></g>
<g id="igf1-a"><rect class="n" x="1330.8" y="238.9" width="41.3" height="15"/><text class="c" x="1351.45" y="250.1">IGF1</text></g>
<g id="myc"><rect class="r" x="1330.8" y="259.5" width="41.3" height="15"/><text class="c t" x="1351.45" y="270.7">MYC</text></g>
<g id="id2"><rect class="n" x="1330.8" y="280.2" width="41.3" height="15"/><text class="c" x="1351.45" y="291.4">ID2</text></g>
<g id="p21-b"><rect class="r" x="1330.8" y="322.5" width="41.3" height="15"/><text class="c t" x="1351.45" y="333.7">p21</text></g>
<g id="tgfbr2"><rect class="n" x="1330.8" y="343.2" width="41.3" height="15"/><text class="c" x="1351.45" y="354.4" textLength="38" lengthAdjust="spacingAndGlyphs">TGFBR2</text></g>
<g id="igfbp3"><rect class="r" x="1330.8" y="364.1" width="41.3" height="15"/><text class="c t" x="1351.45" y="375.3">IGFBP3</text></g>
<g id="igf1-b"><rect class="n" x="1330.8" y="395.6" width="41.3" height="15"/><text class="c" x="1351.45" y="406.8">IGF1</text></g>
<g id="ewsr1-f"><rect class="n" x="1130.6" y="460.6" width="41.3" height="15"/><text class="c" x="1151.25" y="471.8">EWSR1</text></g>
<g id="atf1"><rect class="n" x="1179.8" y="460.6" width="41.3" height="15"/><text class="c" x="1200.45" y="471.8">ATF1</text></g>
<g id="arnt2"><rect class="r" x="1330.8" y="439.2" width="41.3" height="15"/><text class="c t" x="1351.45" y="450.4">ARNT2</text></g>
<g id="atm"><rect class="n" x="1330.8" y="460.6" width="41.3" height="15"/><text class="c" x="1351.45" y="471.8">ATM</text></g>
<g id="mitf"><rect class="n" x="1330.8" y="482.5" width="41.3" height="15"/><text class="c" x="1351.45" y="493.7">MITF</text></g>
<g id="ewsr1-g"><rect class="n" x="1130.6" y="526.6" width="41.3" height="15"/><text class="c" x="1151.25" y="537.8">EWSR1</text></g>
<g id="wt1"><rect class="n" x="1179.8" y="526.6" width="41.3" height="15"/><text class="c" x="1200.45" y="537.8">WT1</text></g>
<g id="pdgf"><rect class="n" x="1330.8" y="514" width="41.3" height="15"/><text class="c" x="1351.45" y="525.2">PDGF</text></g>
<g id="il2rb"><rect class="r" x="1378.6" y="514" width="41.3" height="15"/><text class="c t" x="1399.25" y="525.2">IL2Rβ</text></g>
<g id="baiap3"><rect class="n" x="1330.8" y="534.4" width="41.3" height="15"/><text class="c" x="1351.45" y="545.6">BAIAP3</text></g>
<g id="talla1"><rect class="n" x="1330.8" y="555" width="41.3" height="15"/><text class="c" x="1351.45" y="566.2" textLength="38" lengthAdjust="spacingAndGlyphs">TALLA1</text></g>
<g id="mlf1"><rect class="r" x="1330.8" y="576" width="41.3" height="15"/><text class="c t" x="1351.45" y="587.2">MLF1</text></g>
<g id="ewsr1-h"><rect class="n" x="1130.6" y="603.3" width="41.3" height="15"/><text class="c" x="1151.25" y="614.5">EWSR1</text></g>
<g id="nr4a3-a"><rect class="r" x="1179.8" y="603.3" width="41.3" height="15"/><text class="c t" x="1200.45" y="614.5">NR4A3</text></g>
<g id="pparg-c"><rect class="n" x="1330.8" y="603.3" width="41.3" height="15"/><text class="c" x="1351.45" y="614.5">PPARG</text></g>
<g id="taf15"><rect class="n" x="1130.6" y="635.4" width="41.3" height="15"/><text class="c" x="1151.25" y="646.6">TAF15</text></g>
<g id="nr4a3-b"><rect class="r" x="1179.8" y="635.4" width="41.3" height="15"/><text class="c t" x="1200.45" y="646.6">NR4A3</text></g>
<g id="fus"><rect class="n" x="1130.6" y="680.4" width="41.3" height="15"/><text class="c" x="1151.25" y="691.6">FUS</text></g>
<g id="ddit3-a"><rect class="n" x="1179.8" y="680.4" width="41.3" height="15"/><text class="c" x="1200.45" y="691.6">DDIT3</text></g>
<g id="cebpb"><rect class="r" x="1246.6" y="680.4" width="41.3" height="15"/><text class="c t" x="1267.25" y="691.6">C/EBPβ</text></g>
<g id="il6"><rect class="n" x="1345.3" y="680.8" width="41.3" height="15"/><text class="c" x="1365.95" y="692">IL6</text></g>
<g id="ewsr1-i"><rect class="n" x="1130.6" y="721.7" width="41.3" height="15"/><text class="c" x="1151.25" y="732.9">EWSR1</text></g>
<g id="ddit3-b"><rect class="n" x="1179.8" y="721.7" width="41.3" height="15"/><text class="c" x="1200.45" y="732.9">DDIT3</text></g>
<g id="nfkbiz"><rect class="n" x="1247.3" y="707.3" width="41.3" height="15"/><text class="c" x="1267.95" y="718.5" textLength="38" lengthAdjust="spacingAndGlyphs">NFKBIZ</text></g>
<g id="nfkb"><rect class="n" x="1247.3" y="722.3" width="41.3" height="15"/><text class="c" x="1267.95" y="733.5">NFκB</text></g>
<g id="il8"><rect class="r" x="1345.3" y="722.3" width="41.3" height="15"/><text class="c t" x="1365.95" y="733.5">IL8</text></g>
<g id="pax3"><rect class="n" x="1130.6" y="775.6" width="41.3" height="15"/><text class="c" x="1151.25" y="786.8">PAX3</text></g>
<g id="foxo1a-a"><rect class="n" x="1179.8" y="775.6" width="41.3" height="15"/><text class="c" x="1200.45" y="786.8" textLength="39" lengthAdjust="spacingAndGlyphs">FOXO1A</text></g>
<g id="flt1"><rect class="n" x="1330.8" y="775.6" width="41.3" height="15"/><text class="c" x="1351.45" y="786.8">FLT1</text></g>
<g id="pax7"><rect class="n" x="1130.6" y="817.6" width="41.3" height="15"/><text class="c" x="1151.25" y="828.8">PAX7</text></g>
<g id="foxo1a-b"><rect class="n" x="1179.8" y="817.6" width="41.3" height="15"/><text class="c" x="1200.45" y="828.8" textLength="39" lengthAdjust="spacingAndGlyphs">FOXO1A</text></g>
<g id="syt"><rect class="n" x="1130.6" y="864.7" width="41.3" height="15"/><text class="c" x="1151.25" y="875.9">SYT</text></g>
<g id="ssx"><rect class="n" x="1179.8" y="864.7" width="41.3" height="15"/><text class="c" x="1200.45" y="875.9">SSX</text></g>
<g id="com1"><rect class="n" x="1333.6" y="864.7" width="41.3" height="15"/><text class="c" x="1354.25" y="875.9">COM1</text></g>
<g id="aspl"><rect class="n" x="1130.6" y="914.1" width="41.3" height="15"/><text class="c" x="1151.25" y="925.3">ASPL</text></g>
<g id="tfe3-b"><rect class="n" x="1179.8" y="914.1" width="41.3" height="15"/><text class="c" x="1200.45" y="925.3">TFE3</text></g>
<g id="cmet"><rect class="r" x="1333.6" y="914.1" width="41.3" height="15"/><text class="c t" x="1354.25" y="925.3">c-Met</text></g>
<g id="p53-b"><rect class="n" x="1130.6" y="974" width="41.3" height="15"/><text class="c" x="1151.25" y="985.2">p53</text></g>
<g id="p21-c"><rect class="r" x="1333.6" y="954.6" width="41.3" height="15"/><text class="c t" x="1354.25" y="965.8">p21</text></g>
<g id="gadd45"><rect class="r" x="1380.3" y="954.6" width="41.3" height="15"/><text class="c t" x="1400.95" y="965.8" textLength="39" lengthAdjust="spacingAndGlyphs">GADD45</text></g>
<g id="bax"><rect class="n" x="1333.6" y="974.6" width="41.3" height="15"/><text class="c" x="1354.25" y="985.8">Bax</text></g>
<g id="bak"><rect class="n" x="1380.3" y="974.6" width="41.3" height="15"/><text class="c" x="1400.95" y="985.8">Bak</text></g>
<g id="p48"><rect class="n" x="1333.6" y="994.1" width="41.3" height="15"/><text class="c" x="1354.25" y="1005.3">p48</text></g>
<g id="polk"><rect class="n" x="1380.3" y="994.1" width="41.3" height="15"/><text class="c" x="1400.95" y="1005.3">POLK</text></g>
</g>

<g id="color-legend">
<rect x="1332.5" y="26" width="19.8" height="26" fill="#00ff00"/>
<rect x="1352.15" y="26" width="19.8" height="26" fill="#30f030"/>
<rect x="1371.8" y="26" width="19.8" height="26" fill="#60e060"/>
<rect x="1391.45" y="26" width="19.8" height="26" fill="#90d090"/>
<rect x="1411.1" y="26" width="19.8" height="26" fill="#bebebe"/>
<rect x="1430.75" y="26" width="19.8" height="26" fill="#bebebe"/>
<rect x="1450.4" y="26" width="19.8" height="26" fill="#ce8e8e"/>
<rect x="1470.05" y="26" width="19.8" height="26" fill="#df5e5e"/>
<rect x="1489.7" y="26" width="19.8" height="26" fill="#ef2f2f"/>
<rect x="1509.35" y="26" width="19.65" height="26" fill="#ff0000"/>
<path d="M1352.15,52V58.5 M1371.8,52V58.5 M1411.1,52V58.5 M1450.4,52V58.5 M1489.7,52V58.5 M1529,52V58.5" stroke="#555" stroke-width="1.5" fill="none"/>
<text class="sans c" x="1336" y="86.9" style="font-size:20px">-1</text>
<text class="sans c" x="1433.6" y="86.9" style="font-size:20px">0</text>
<text class="sans c" x="1530.6" y="86.9" style="font-size:20px">1</text>
</g>
</g>
</svg>
